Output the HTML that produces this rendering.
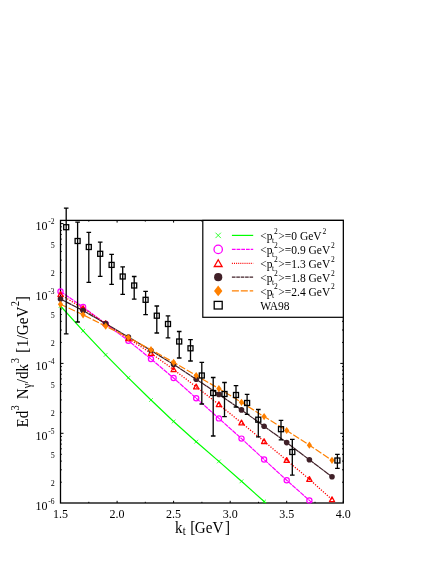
<!DOCTYPE html>
<html><head><meta charset="utf-8"><title>chart</title><style>html,body{margin:0;padding:0;background:#fff}body{width:436px;height:564px;overflow:hidden}</style></head><body>
<svg width="436" height="564" viewBox="0 0 436 564" style="display:block;will-change:transform">
<rect width="436" height="564" fill="#fff"/>
<defs><clipPath id="c"><rect x="60.5" y="220.4" width="282.8" height="282.6"/></clipPath></defs>
<rect x="60.5" y="220.4" width="282.8" height="282.6" fill="none" stroke="#000" stroke-width="1.3"/>
<path d="M60.5 503.0v-2.2M60.5 220.4v2.2M88.8 503.0v-1.2M88.8 220.4v1.2M117.1 503.0v-2.2M117.1 220.4v2.2M145.3 503.0v-1.2M145.3 220.4v1.2M173.6 503.0v-2.2M173.6 220.4v2.2M201.9 503.0v-1.2M201.9 220.4v1.2M230.2 503.0v-2.2M230.2 220.4v2.2M258.5 503.0v-1.2M258.5 220.4v1.2M286.7 503.0v-2.2M286.7 220.4v2.2M315.0 503.0v-1.2M315.0 220.4v1.2M343.3 503.0v-2.2M343.3 220.4v2.2M60.5 482.2h1.3M343.3 482.2h-1.3M60.5 469.8h1.3M343.3 469.8h-1.3M60.5 461.1h1.3M343.3 461.1h-1.3M60.5 454.3h1.3M343.3 454.3h-1.3M60.5 448.8h1.3M343.3 448.8h-1.3M60.5 444.1h1.3M343.3 444.1h-1.3M60.5 440.1h1.3M343.3 440.1h-1.3M60.5 436.5h1.3M343.3 436.5h-1.3M60.5 433.3h3M343.3 433.3h-3M60.5 412.3h1.3M343.3 412.3h-1.3M60.5 399.9h1.3M343.3 399.9h-1.3M60.5 391.2h1.3M343.3 391.2h-1.3M60.5 384.4h1.3M343.3 384.4h-1.3M60.5 378.9h1.3M343.3 378.9h-1.3M60.5 374.2h1.3M343.3 374.2h-1.3M60.5 370.2h1.3M343.3 370.2h-1.3M60.5 366.6h1.3M343.3 366.6h-1.3M60.5 363.4h3M343.3 363.4h-3M60.5 342.4h1.3M343.3 342.4h-1.3M60.5 330.0h1.3M343.3 330.0h-1.3M60.5 321.3h1.3M343.3 321.3h-1.3M60.5 314.5h1.3M343.3 314.5h-1.3M60.5 309.0h1.3M343.3 309.0h-1.3M60.5 304.3h1.3M343.3 304.3h-1.3M60.5 300.3h1.3M343.3 300.3h-1.3M60.5 296.7h1.3M343.3 296.7h-1.3M60.5 293.5h3M343.3 293.5h-3M60.5 272.5h1.3M343.3 272.5h-1.3M60.5 260.1h1.3M343.3 260.1h-1.3M60.5 251.4h1.3M343.3 251.4h-1.3M60.5 244.6h1.3M343.3 244.6h-1.3M60.5 239.1h1.3M343.3 239.1h-1.3M60.5 234.4h1.3M343.3 234.4h-1.3M60.5 230.4h1.3M343.3 230.4h-1.3M60.5 226.8h1.3M343.3 226.8h-1.3M60.5 223.6h3M343.3 223.6h-3" stroke="#000" stroke-width="1" fill="none"/>
<g fill="none">
<polyline clip-path="url(#c)" points="60.5,306.0 83.1,330.8 105.7,354.8 128.4,377.8 151.0,400.0 173.6,421.5 196.2,441.7 218.9,461.4 241.5,481.3 264.1,501.5 286.7,521.5" stroke="#00ff00" stroke-width="1.2"/>
<path d="M58.6 304.1L62.4 307.9M58.6 307.9L62.4 304.1" stroke="#00ff00" stroke-width="0.7"/>
<path d="M81.2 328.9L85.0 332.7M81.2 332.7L85.0 328.9" stroke="#00ff00" stroke-width="0.7"/>
<path d="M103.8 352.9L107.6 356.7M103.8 356.7L107.6 352.9" stroke="#00ff00" stroke-width="0.7"/>
<path d="M126.5 375.9L130.3 379.7M126.5 379.7L130.3 375.9" stroke="#00ff00" stroke-width="0.7"/>
<path d="M149.1 398.1L152.9 401.9M149.1 401.9L152.9 398.1" stroke="#00ff00" stroke-width="0.7"/>
<path d="M171.7 419.6L175.5 423.4M171.7 423.4L175.5 419.6" stroke="#00ff00" stroke-width="0.7"/>
<path d="M194.3 439.8L198.1 443.6M194.3 443.6L198.1 439.8" stroke="#00ff00" stroke-width="0.7"/>
<path d="M217.0 459.5L220.8 463.3M217.0 463.3L220.8 459.5" stroke="#00ff00" stroke-width="0.7"/>
<path d="M239.6 479.4L243.4 483.2M239.6 483.2L243.4 479.4" stroke="#00ff00" stroke-width="0.7"/>
<path d="M262.2 499.6L266.0 503.4M262.2 503.4L266.0 499.6" stroke="#00ff00" stroke-width="0.7"/>
<polyline clip-path="url(#c)" points="60.5,291.5 83.1,307.0 105.7,324.0 128.4,340.7 151.0,359.0 173.6,378.0 196.2,398.2 218.9,418.4 241.5,438.6 264.1,459.5 286.7,480.3 309.4,500.4 332.0,520.5" stroke="#ff00ff" stroke-width="1.2" stroke-dasharray="4.7 0.7"/>
<circle cx="60.5" cy="291.5" r="2.6" stroke="#ff00ff" stroke-width="1.2"/>
<circle cx="83.1" cy="307.0" r="2.6" stroke="#ff00ff" stroke-width="1.2"/>
<circle cx="105.7" cy="324.0" r="2.6" stroke="#ff00ff" stroke-width="1.2"/>
<circle cx="128.4" cy="340.7" r="2.6" stroke="#ff00ff" stroke-width="1.2"/>
<circle cx="151.0" cy="359.0" r="2.6" stroke="#ff00ff" stroke-width="1.2"/>
<circle cx="173.6" cy="378.0" r="2.6" stroke="#ff00ff" stroke-width="1.2"/>
<circle cx="196.2" cy="398.2" r="2.6" stroke="#ff00ff" stroke-width="1.2"/>
<circle cx="218.9" cy="418.4" r="2.6" stroke="#ff00ff" stroke-width="1.2"/>
<circle cx="241.5" cy="438.6" r="2.6" stroke="#ff00ff" stroke-width="1.2"/>
<circle cx="264.1" cy="459.5" r="2.6" stroke="#ff00ff" stroke-width="1.2"/>
<circle cx="286.7" cy="480.3" r="2.6" stroke="#ff00ff" stroke-width="1.2"/>
<circle cx="309.4" cy="500.4" r="2.6" stroke="#ff00ff" stroke-width="1.2"/>
<polyline clip-path="url(#c)" points="60.5,294.5 83.1,308.5 105.7,323.5 128.4,338.5 151.0,353.2 173.6,369.6 196.2,386.8 218.9,404.5 241.5,422.8 264.1,441.4 286.7,460.3 309.4,479.3 332.0,499.6" stroke="#ff0000" stroke-width="1.3" stroke-dasharray="1.2 1.45"/>
<path d="M60.5 291.8L63.1 296.6L57.9 296.6Z" stroke="#ff0000" stroke-width="1.3" stroke-linejoin="round"/>
<path d="M83.1 305.8L85.7 310.6L80.5 310.6Z" stroke="#ff0000" stroke-width="1.3" stroke-linejoin="round"/>
<path d="M105.7 320.8L108.3 325.6L103.1 325.6Z" stroke="#ff0000" stroke-width="1.3" stroke-linejoin="round"/>
<path d="M128.4 335.8L131.0 340.6L125.8 340.6Z" stroke="#ff0000" stroke-width="1.3" stroke-linejoin="round"/>
<path d="M151.0 350.5L153.6 355.3L148.4 355.3Z" stroke="#ff0000" stroke-width="1.3" stroke-linejoin="round"/>
<path d="M173.6 366.9L176.2 371.7L171.0 371.7Z" stroke="#ff0000" stroke-width="1.3" stroke-linejoin="round"/>
<path d="M196.2 384.1L198.8 388.9L193.6 388.9Z" stroke="#ff0000" stroke-width="1.3" stroke-linejoin="round"/>
<path d="M218.9 401.8L221.5 406.6L216.3 406.6Z" stroke="#ff0000" stroke-width="1.3" stroke-linejoin="round"/>
<path d="M241.5 420.1L244.1 424.9L238.9 424.9Z" stroke="#ff0000" stroke-width="1.3" stroke-linejoin="round"/>
<path d="M264.1 438.7L266.7 443.5L261.5 443.5Z" stroke="#ff0000" stroke-width="1.3" stroke-linejoin="round"/>
<path d="M286.7 457.6L289.3 462.4L284.1 462.4Z" stroke="#ff0000" stroke-width="1.3" stroke-linejoin="round"/>
<path d="M309.4 476.6L312.0 481.4L306.8 481.4Z" stroke="#ff0000" stroke-width="1.3" stroke-linejoin="round"/>
<path d="M332.0 496.9L334.6 501.7L329.4 501.7Z" stroke="#ff0000" stroke-width="1.3" stroke-linejoin="round"/>
<polyline clip-path="url(#c)" points="60.5,299.0 83.1,310.6 105.7,323.6 128.4,337.0 151.0,350.5 173.6,364.5 196.2,379.2 218.9,394.4 241.5,409.9 264.1,426.2 286.7,442.6 309.4,459.8 332.0,476.8" stroke="#402028" stroke-width="1.2" stroke-dasharray="6 0.3"/>
<circle cx="60.5" cy="299.0" r="2.8" fill="#402028"/>
<circle cx="83.1" cy="310.6" r="2.8" fill="#402028"/>
<circle cx="105.7" cy="323.6" r="2.8" fill="#402028"/>
<circle cx="128.4" cy="337.0" r="2.8" fill="#402028"/>
<circle cx="151.0" cy="350.5" r="2.8" fill="#402028"/>
<circle cx="173.6" cy="364.5" r="2.8" fill="#402028"/>
<circle cx="196.2" cy="379.2" r="2.8" fill="#402028"/>
<circle cx="218.9" cy="394.4" r="2.8" fill="#402028"/>
<circle cx="241.5" cy="409.9" r="2.8" fill="#402028"/>
<circle cx="264.1" cy="426.2" r="2.8" fill="#402028"/>
<circle cx="286.7" cy="442.6" r="2.8" fill="#402028"/>
<circle cx="309.4" cy="459.8" r="2.8" fill="#402028"/>
<circle cx="332.0" cy="476.8" r="2.8" fill="#402028"/>
<polyline clip-path="url(#c)" points="60.5,304.3 83.1,314.8 105.7,326.2 128.4,337.5 151.0,349.7 173.6,362.3 196.2,375.5 218.9,388.6 241.5,402.3 264.1,416.6 286.7,430.5 309.4,445.2 332.0,460.3" stroke="#ff8000" stroke-width="1.2" stroke-dasharray="7 1.9"/>
<path d="M60.5 300.7L63.1 304.3L60.5 307.9L57.9 304.3Z" fill="#ff8000"/>
<path d="M83.1 311.2L85.7 314.8L83.1 318.4L80.5 314.8Z" fill="#ff8000"/>
<path d="M105.7 322.6L108.3 326.2L105.7 329.8L103.1 326.2Z" fill="#ff8000"/>
<path d="M128.4 333.9L131.0 337.5L128.4 341.1L125.8 337.5Z" fill="#ff8000"/>
<path d="M151.0 346.1L153.6 349.7L151.0 353.3L148.4 349.7Z" fill="#ff8000"/>
<path d="M173.6 358.7L176.2 362.3L173.6 365.9L171.0 362.3Z" fill="#ff8000"/>
<path d="M196.2 371.9L198.8 375.5L196.2 379.1L193.6 375.5Z" fill="#ff8000"/>
<path d="M218.9 385.0L221.5 388.6L218.9 392.2L216.3 388.6Z" fill="#ff8000"/>
<path d="M241.5 398.7L244.1 402.3L241.5 405.9L238.9 402.3Z" fill="#ff8000"/>
<path d="M264.1 413.0L266.7 416.6L264.1 420.2L261.5 416.6Z" fill="#ff8000"/>
<path d="M286.7 426.9L289.3 430.5L286.7 434.1L284.1 430.5Z" fill="#ff8000"/>
<path d="M309.4 441.6L312.0 445.2L309.4 448.8L306.8 445.2Z" fill="#ff8000"/>
<path d="M332.0 456.7L334.6 460.3L332.0 463.9L329.4 460.3Z" fill="#ff8000"/>
</g>
<g fill="none" stroke="#000" stroke-width="1.3">
<path d="M66.2 208.2V333.8M63.9 208.2H68.5M63.9 333.8H68.5"/>
<rect x="63.7" y="224.7" width="5" height="5"/>
<path d="M77.6 222.2V322.0M75.3 222.2H79.9M75.3 322.0H79.9"/>
<rect x="75.1" y="238.5" width="5" height="5"/>
<path d="M88.8 232.3V282.3M86.5 232.3H91.1M86.5 282.3H91.1"/>
<rect x="86.3" y="244.5" width="5" height="5"/>
<path d="M100.2 242.2V276.3M97.9 242.2H102.5M97.9 276.3H102.5"/>
<rect x="97.7" y="251.3" width="5" height="5"/>
<path d="M111.6 254.3V284.3M109.3 254.3H113.9M109.3 284.3H113.9"/>
<rect x="109.1" y="262.4" width="5" height="5"/>
<path d="M122.7 266.9V294.4M120.4 266.9H125.0M120.4 294.4H125.0"/>
<rect x="120.2" y="274.0" width="5" height="5"/>
<path d="M134.2 276.5V299.2M131.9 276.5H136.5M131.9 299.2H136.5"/>
<rect x="131.7" y="283.0" width="5" height="5"/>
<path d="M145.6 291.4V314.6M143.3 291.4H147.9M143.3 314.6H147.9"/>
<rect x="143.1" y="297.3" width="5" height="5"/>
<path d="M156.8 306.0V333.0M154.5 306.0H159.1M154.5 333.0H159.1"/>
<rect x="154.3" y="313.2" width="5" height="5"/>
<path d="M168.0 315.8V337.8M165.7 315.8H170.3M165.7 337.8H170.3"/>
<rect x="165.5" y="321.5" width="5" height="5"/>
<path d="M179.2 331.5V358.0M176.9 331.5H181.5M176.9 358.0H181.5"/>
<rect x="176.7" y="339.0" width="5" height="5"/>
<path d="M190.5 339.6V361.0M188.2 339.6H192.8M188.2 361.0H192.8"/>
<rect x="188.0" y="345.8" width="5" height="5"/>
<path d="M201.8 362.3V404.0M199.5 362.3H204.1M199.5 404.0H204.1"/>
<rect x="199.3" y="373.0" width="5" height="5"/>
<path d="M213.2 377.5V436.0M210.9 377.5H215.5M210.9 436.0H215.5"/>
<rect x="210.7" y="390.5" width="5" height="5"/>
<path d="M224.5 382.5V416.6M222.2 382.5H226.8M222.2 416.6H226.8"/>
<rect x="222.0" y="391.5" width="5" height="5"/>
<path d="M236.0 385.6V407.0M233.7 385.6H238.3M233.7 407.0H238.3"/>
<rect x="233.5" y="392.5" width="5" height="5"/>
<path d="M247.1 394.4V414.3M244.8 394.4H249.4M244.8 414.3H249.4"/>
<rect x="244.6" y="400.5" width="5" height="5"/>
<path d="M258.3 409.5V436.8M256.0 409.5H260.6M256.0 436.8H260.6"/>
<rect x="255.8" y="417.2" width="5" height="5"/>
<path d="M281.0 420.4V439.8M278.7 420.4H283.3M278.7 439.8H283.3"/>
<rect x="278.5" y="426.7" width="5" height="5"/>
<path d="M292.3 439.3V475.2M290.0 439.3H294.6M290.0 475.2H294.6"/>
<rect x="289.8" y="449.5" width="5" height="5"/>
<path d="M337.4 454.4V468.4M335.1 454.4H339.7M335.1 468.4H339.7"/>
<rect x="334.9" y="458.0" width="5" height="5"/>
</g>
<g font-family="Liberation Serif, serif" fill="#000" style="filter:opacity(1)">
<text x="60.5" y="517.8" font-size="12" text-anchor="middle">1.5</text>
<text x="117.1" y="517.8" font-size="12" text-anchor="middle">2.0</text>
<text x="173.6" y="517.8" font-size="12" text-anchor="middle">2.5</text>
<text x="230.2" y="517.8" font-size="12" text-anchor="middle">3.0</text>
<text x="286.7" y="517.8" font-size="12" text-anchor="middle">3.5</text>
<text x="343.3" y="517.8" font-size="12" text-anchor="middle">4.0</text>
<text x="47.4" y="510.0" font-size="12" text-anchor="end">10</text>
<text x="48.2" y="503.5" font-size="7.5">-6</text>
<text x="47.4" y="440.1" font-size="12" text-anchor="end">10</text>
<text x="48.2" y="433.6" font-size="7.5">-5</text>
<text x="47.4" y="370.2" font-size="12" text-anchor="end">10</text>
<text x="48.2" y="363.7" font-size="7.5">-4</text>
<text x="47.4" y="300.3" font-size="12" text-anchor="end">10</text>
<text x="48.2" y="293.8" font-size="7.5">-3</text>
<text x="47.4" y="230.4" font-size="12" text-anchor="end">10</text>
<text x="48.2" y="223.9" font-size="7.5">-2</text>
<text x="54.8" y="486.0" font-size="8" text-anchor="end">2</text>
<text x="54.8" y="458.1" font-size="8" text-anchor="end">5</text>
<text x="54.8" y="416.1" font-size="8" text-anchor="end">2</text>
<text x="54.8" y="388.2" font-size="8" text-anchor="end">5</text>
<text x="54.8" y="346.2" font-size="8" text-anchor="end">2</text>
<text x="54.8" y="318.3" font-size="8" text-anchor="end">5</text>
<text x="54.8" y="276.3" font-size="8" text-anchor="end">2</text>
<text x="54.8" y="248.4" font-size="8" text-anchor="end">5</text>
<text transform="translate(175.1,532.9) scale(0.91,1)" font-size="16.6">k</text>
<text transform="translate(182.8,535.3) scale(0.91,1)" font-size="11.5">t</text>
<text transform="translate(190.2,532.9) scale(0.91,1)" font-size="16.6">[</text>
<text transform="translate(194.8,532.9) scale(0.91,1)" font-size="16.6">GeV</text>
<text transform="translate(224.9,532.9) scale(0.91,1)" font-size="16.6">]</text>
<text transform="translate(28.3,427.4) rotate(-90) scale(0.91,1)" font-size="16.6">Ed</text>
<text transform="translate(18.8,410.4) rotate(-90) scale(0.91,1)" font-size="11.5">3</text>
<text transform="translate(28.3,399.3) rotate(-90) scale(0.91,1)" font-size="16.6">N</text>
<text transform="translate(31.3,388.3) rotate(-90) scale(0.91,1)" font-size="11.5">γ</text>
<text transform="translate(28.3,383.2) rotate(-90) scale(0.91,1)" font-size="16.6">/dk</text>
<text transform="translate(18.8,363.2) rotate(-90) scale(0.91,1)" font-size="11.5">3</text>
<text transform="translate(28.3,352.7) rotate(-90) scale(0.91,1)" font-size="16.6">[</text>
<text transform="translate(28.3,346.9) rotate(-90) scale(0.91,1)" font-size="16.6">1/GeV</text>
<text transform="translate(18.8,306.3) rotate(-90) scale(0.91,1)" font-size="11.5">2</text>
<text transform="translate(28.3,301.2) rotate(-90) scale(0.91,1)" font-size="16.6">]</text>
<rect x="202.8" y="220.4" width="140.5" height="96.9" fill="#fff" stroke="#000" stroke-width="1.2"/>
<text x="260.2" y="240.3" font-size="11.5">&lt;p</text>
<text x="272.0" y="242.8" font-size="7.5">t</text>
<text x="274.1" y="233.7" font-size="7.5">2</text>
<text x="278.3" y="240.3" font-size="11.5">&gt;=0 GeV<tspan font-size="7.5" dy="-6.6" dx="0.8">2</tspan></text>
<text x="260.2" y="254.3" font-size="11.5">&lt;p</text>
<text x="272.0" y="256.8" font-size="7.5">t</text>
<text x="274.1" y="247.7" font-size="7.5">2</text>
<text x="278.3" y="254.3" font-size="11.5">&gt;=0.9 GeV<tspan font-size="7.5" dy="-6.6" dx="0.8">2</tspan></text>
<text x="260.2" y="268.2" font-size="11.5">&lt;p</text>
<text x="272.0" y="270.7" font-size="7.5">t</text>
<text x="274.1" y="261.6" font-size="7.5">2</text>
<text x="278.3" y="268.2" font-size="11.5">&gt;=1.3 GeV<tspan font-size="7.5" dy="-6.6" dx="0.8">2</tspan></text>
<text x="260.2" y="282.1" font-size="11.5">&lt;p</text>
<text x="272.0" y="284.6" font-size="7.5">t</text>
<text x="274.1" y="275.5" font-size="7.5">2</text>
<text x="278.3" y="282.1" font-size="11.5">&gt;=1.8 GeV<tspan font-size="7.5" dy="-6.6" dx="0.8">2</tspan></text>
<text x="260.2" y="295.8" font-size="11.5">&lt;p</text>
<text x="272.0" y="298.3" font-size="7.5">t</text>
<text x="274.1" y="289.2" font-size="7.5">2</text>
<text x="278.3" y="295.8" font-size="11.5">&gt;=2.4 GeV<tspan font-size="7.5" dy="-6.6" dx="0.8">2</tspan></text>
<text x="260.2" y="309.7" font-size="11.5">WA98</text>
</g>
<path d="M231.9 235.4H253.2" stroke="#00ff00" stroke-width="1.2" fill="none"/>
<path d="M231.9 249.4H253.2" stroke="#ff00ff" stroke-width="1.2" fill="none" stroke-dasharray="3.7 1"/>
<path d="M231.9 263.3H253.2" stroke="#ff0000" stroke-width="1.2" fill="none" stroke-dasharray="1 1.1"/>
<path d="M231.9 277.2H253.2" stroke="#402028" stroke-width="1.2" fill="none" stroke-dasharray="3.6 0.8"/>
<path d="M231.9 290.9H253.2" stroke="#ff8000" stroke-width="1.2" fill="none" stroke-dasharray="7 1.9"/>
<path d="M215.5 232.70000000000002L220.89999999999998 238.1M215.5 238.1L220.89999999999998 232.70000000000002" stroke="#00ff00" stroke-width="0.8"/>
<circle cx="218.2" cy="249.4" r="4.2" fill="none" stroke="#ff00ff" stroke-width="1.3"/>
<path d="M218.2 259.7L222.1 266.5L214.29999999999998 266.5Z" fill="none" stroke="#ff0000" stroke-width="1.3"/>
<circle cx="218.2" cy="277.2" r="4.1" fill="#402028"/>
<path d="M218.2 285.59999999999997L222.39999999999998 290.9L218.2 296.2L214.0 290.9Z" fill="#ff8000"/>
<rect x="214.2" y="301.4" width="8" height="7.6" fill="none" stroke="#000" stroke-width="1.3"/>
</svg>
</body></html>
